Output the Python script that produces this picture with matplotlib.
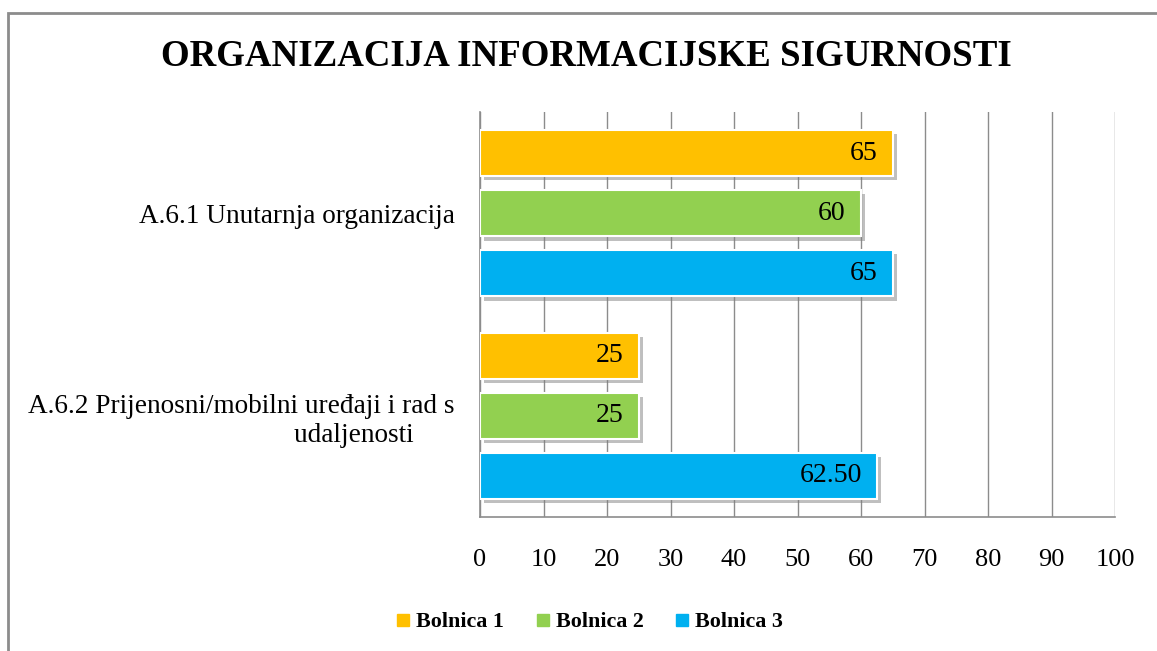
import matplotlib.pyplot as plt
import matplotlib.patheffects as pe
from matplotlib.patches import Rectangle
from matplotlib.lines import Line2D
import numpy as np

# data
categories = ["A.6.1 Unutarnja organizacija",
              "A.6.2 Prijenosni/mobilni uređaji i rad s\nudaljenosti      "]
series_names = ["Bolnica 1", "Bolnica 2", "Bolnica 3"]
bolnica1 = [65, 25]
bolnica2 = [60, 25]
bolnica3 = [65, 62.5]
value_labels = [["65", "25"], ["60", "25"], ["65", "62.50"]]
colors = ["#FFC000", "#92D050", "#00B0F0"]

plt.rcParams['font.family'] = ['Liberation Serif', 'DejaVu Serif']

fig = plt.figure(figsize=(11.57, 6.51), dpi=100)
ax = fig.add_axes([480 / 1157, 1 - 517 / 651, 635 / 1157, 405 / 651])

# outer chart border (left and top visible)
fig.patches.append(Rectangle((8 / 1157, -0.1), 1.2, 1 - 13 / 651 + 0.1,
                             transform=fig.transFigure, fill=False,
                             edgecolor="#8c8c8c", linewidth=2))

y = np.arange(len(categories))
bar_h = 0.228
pitch = 0.297
series = [bolnica1, bolnica2, bolnica3]
shadow = [pe.SimplePatchShadow(offset=(3, -3), shadow_rgbFace="#808080", alpha=0.5), pe.Normal()]

for i, vals in enumerate(series):
    ypos = y + (i - 1) * pitch
    bars = ax.barh(ypos, vals, height=bar_h, color=colors[i], edgecolor="white",
                   linewidth=1.5, zorder=3, label=series_names[i])
    for b in bars:
        b.set_path_effects(shadow)
    for yy, v, lab in zip(ypos, vals, value_labels[i]):
        ax.text(v - 2.4, yy, lab, ha="right", va="center", fontsize=20, zorder=4)

ax.set_xlim(0, 100)
ax.set_ylim(1.5, -0.5)
ax.set_xticks(np.arange(0, 101, 10))
ax.tick_params(axis="x", length=0, pad=23, labelsize=19)
ax.set_yticks(y)
ax.set_yticklabels(categories, fontsize=19.6)
ax.tick_params(axis="y", length=0, pad=18)
ax.xaxis.grid(True, color="#8c8c8c", linewidth=1, zorder=0)
ax.set_axisbelow(True)
for s in ["top", "right"]:
    ax.spines[s].set_visible(False)
for s in ["left", "bottom"]:
    ax.spines[s].set_color("#8c8c8c")
    ax.spines[s].set_linewidth(1.2)

fig.text(0.507, 1 - 57 / 651, "ORGANIZACIJA INFORMACIJSKE SIGURNOSTI",
         ha="center", va="center", fontsize=26.6, fontweight="bold")

handles = [Line2D([], [], marker="s", linestyle="none", markersize=8,
                  markerfacecolor=c, markeredgecolor=c) for c in colors]
fig.legend(handles, series_names, loc="center", bbox_to_anchor=(0.508, 1 - 622 / 651),
           ncol=3, frameon=False, prop={"size": 15.8, "weight": "bold"},
           handletextpad=0.1, columnspacing=1.25, handlelength=1.0)

fig.savefig("out.png", dpi=100)
